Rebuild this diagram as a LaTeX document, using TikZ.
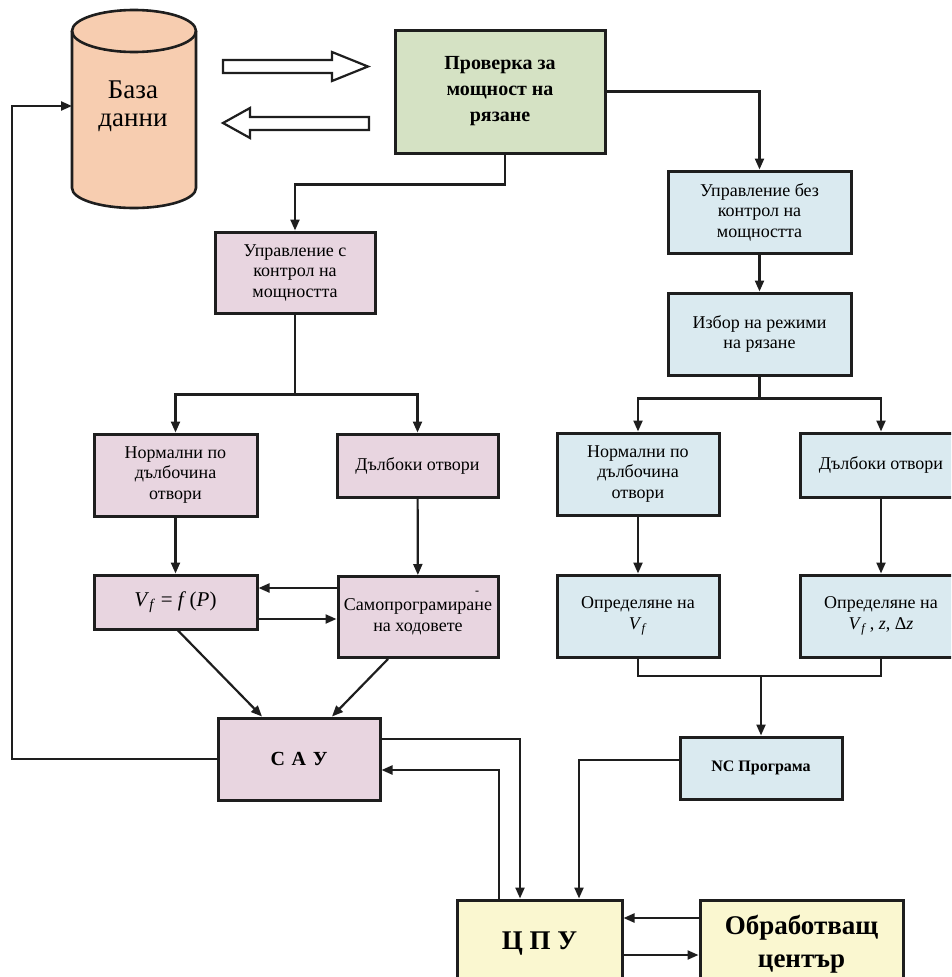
\documentclass[tikz,border=0pt]{standalone}
\usepackage{fontspec}
\setmainfont{Liberation Serif}
\usetikzlibrary{arrows.meta}
\definecolor{dbpeach}{RGB}{247,205,176}
\definecolor{boxgreen}{RGB}{213,226,196}
\definecolor{boxpink}{RGB}{232,213,224}
\definecolor{boxblue}{RGB}{218,234,240}
\definecolor{boxyellow}{RGB}{250,247,208}
\definecolor{linegray}{RGB}{30,30,30}

\begin{document}
\begin{tikzpicture}[x=1pt,y=-1pt,
    box/.style={draw=linegray,line width=3pt,inner sep=0pt,align=center,
      font=\fontsize{18}{20.5}\selectfont},
    pinkbox/.style={box,fill=boxpink},
    bluebox/.style={box,fill=boxblue},
    ybox/.style={box,fill=boxyellow,font=\bfseries\fontsize{27}{33}\selectfont},
    arr/.style={-{Triangle[length=11pt,width=9pt]},line width=2.2pt,draw=linegray},
    wire/.style={line width=2.2pt,draw=linegray},
    hollow/.style={draw=linegray,line width=2.2pt,fill=white,line join=miter}]
        \clip (0,0) rectangle (951,977);

        % data base cylinder
        \fill[dbpeach] (72,31) -- (72,188) arc[start angle=180,end angle=360,x radius=62pt,y radius=20pt]
            -- (196,31) arc[start angle=0,end angle=180,x radius=62pt,y radius=21pt] -- cycle;
        \draw[linegray,line width=2.6pt] (72,31) -- (72,188) arc[start angle=180,end angle=360,x radius=62pt,y radius=20pt]
            -- (196,31);
        \draw[linegray,line width=2.6pt] (134,31) ellipse[x radius=62pt,y radius=21pt];
        \node[align=center,font=\fontsize{27}{28}\selectfont] (db) at (133,106) {База\\данни};
        \coordinate (dbin) at (72,106);
        \coordinate (fbk) at (12,106);

        % hollow arrows
        \draw[hollow] (223,60) -- (332,60) -- (332,52) -- (368,66.5) -- (332,81) -- (332,73) -- (223,73) -- cycle;
        \draw[hollow] (369,117) -- (250,117) -- (250,108) -- (223,123) -- (250,138) -- (250,130) -- (369,130) -- cycle;

        \node[box,fill=boxgreen,minimum width=210pt,minimum height=123pt,
              font=\bfseries\fontsize{20}{26}\selectfont] (check) at (500,91.5) {Проверка за\\мощност на\\рязане};

        % right branch
        \node[bluebox,minimum width=183pt,minimum height=82pt] (bnoctl) at (759.5,212) {Управление без\\контрол на\\мощността};
        \node[bluebox,minimum width=183pt,minimum height=82pt] (bchoose) at (759.5,334) {Избор на режими\\на рязане};
        \node[bluebox,minimum width=162pt,minimum height=82pt] (bnorm) at (638,474) {Нормални по\\дълбочина\\отвори};
        \node[bluebox,minimum width=162pt,minimum height=64pt] (bdeep) at (881,465) {Дълбоки отвори};
        \node[bluebox,minimum width=162pt,minimum height=82pt] (bvf) at (638,616) {Определяне на\\\textit{V}\textsubscript{\textit{f}}};
        \node[bluebox,minimum width=162pt,minimum height=82pt] (bvfz) at (881,616) {Определяне на\\\textit{V}\textsubscript{\textit{f}}\,, \textit{z}, Δ\textit{z}};
        \node[bluebox,minimum width=162pt,minimum height=62pt,font=\bfseries\fontsize{16}{20}\selectfont] (nc) at (761,768) {NC Програма};

        % left branch
        \node[pinkbox,minimum width=160pt,minimum height=81pt] (uctl) at (295,272.5) {Управление с\\контрол на\\мощността};
        \node[pinkbox,minimum width=163pt,minimum height=82pt] (pnorm) at (175.5,475) {Нормални по\\дълбочина\\отвори};
        \node[pinkbox,minimum width=161pt,minimum height=63pt] (pdeep) at (417.5,465.5) {Дълбоки отвори};
        \node[pinkbox,minimum width=163pt,minimum height=54pt,font=\fontsize{21}{24}\selectfont] (pvf) at (175.5,602)
            {\textit{V}\textsubscript{\textit{f}} = \textit{f}\,(\textit{P})};
        \node[pinkbox,minimum width=160pt,minimum height=81pt] (psam) at (418,617) {Самопрограмиране\\на ходовете};
        \node[font=\fontsize{12}{12}\selectfont] (tick) at (477,593) {-};
        \node[pinkbox,minimum width=162pt,minimum height=82pt,font=\bfseries\fontsize{20}{24}\selectfont] (sau) at (299,759) {С\,\,А\,\,У};

        % bottom
        \node[ybox,minimum width=165pt,minimum height=88pt] (cpu) at (539.5,944) {Ц П У};
        \node[ybox,minimum width=203pt,minimum height=88pt] (obr) at (801.5,944) {Обработващ\\център};

        \coordinate (rjoin) at (761,676);

        \draw[arr] (check.east) -| (bnoctl.north);
        \draw[arr] (bnoctl) -- (bchoose);
        \draw[wire] (bchoose.south) -- ++(0,22) coordinate (rsplit);
        \draw[arr] (rsplit) -| (bnorm.north);
        \draw[arr] (rsplit) -| (bdeep.north);
        \draw[arr] (bnorm) -- (bvf);
        \draw[arr] (bdeep) -- (bvfz);
        \draw[wire] (bvf.south) |- (rjoin) -| (bvfz.south);
        \draw[arr] (rjoin) -- (nc.north);
        \draw[arr] ([yshift=8pt]nc.west) -| ([xshift=39.5pt]cpu.north);

        \draw[arr] ([xshift=5pt]check.south) -- ++(0,30) -| (uctl.north);
        \draw[wire] (uctl.south) -- ++(0,80) coordinate (lsplit);
        \draw[arr] (lsplit) -| (pnorm.north);
        \draw[arr] (lsplit) -| (pdeep.north);
        \draw[arr] (pnorm) -- (pvf);
        \draw[arr] (pdeep) -- (psam);
        \draw[arr] ([yshift=14pt]pvf.east -| psam.west) -- ([yshift=14pt]pvf.east);
        \draw[arr] ([yshift=-17pt]pvf.east) -- ([yshift=-17pt]pvf.east -| psam.west);
        \draw[arr] ([xshift=2.5pt]pvf.south) -- ([xshift=-37pt]sau.north);
        \draw[arr] ([xshift=-30pt]psam.south) -- ([xshift=33pt]sau.north);

        \draw[arr] ([yshift=20pt]sau.east) -| ([xshift=-19.5pt]cpu.north);
        \draw[arr] ([xshift=-40.5pt]cpu.north) |- ([yshift=-11pt]sau.east);
        \draw[arr] (sau.west) -| (fbk) -- (dbin);
        \draw[arr] ([yshift=26pt]obr.west) -- ([yshift=26pt]cpu.east);
        \draw[arr] ([yshift=-11pt]cpu.east) -- ([yshift=-11pt]obr.west);
    \end{tikzpicture}
\end{document}
